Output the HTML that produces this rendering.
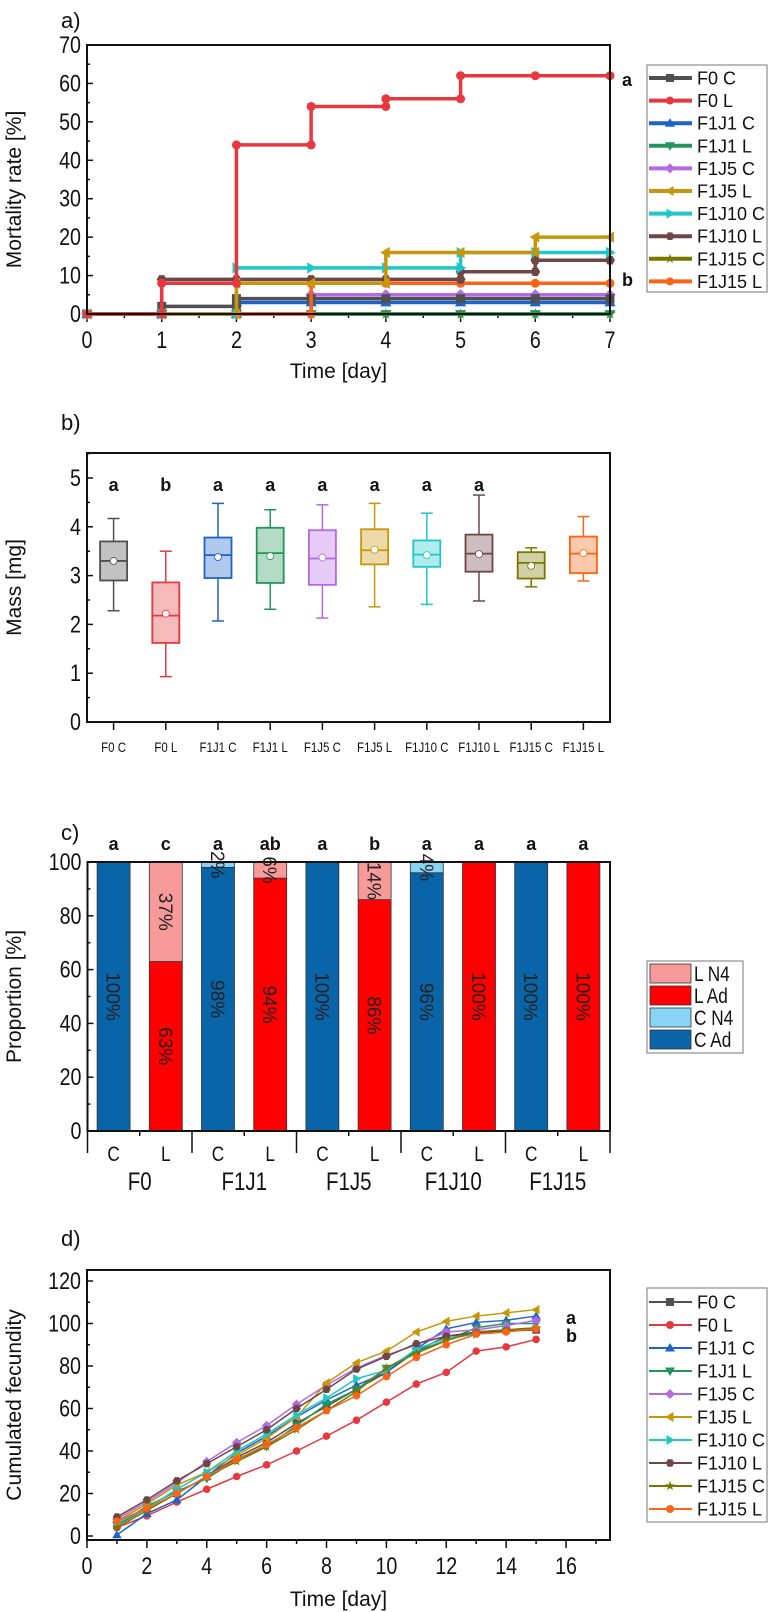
<!DOCTYPE html>
<html><head><meta charset="utf-8"><style>
body{margin:0;background:#fff;}
svg{display:block;font-family:"Liberation Sans",Arial,sans-serif;}
</style></head><body>
<svg id="fig" width="772" height="1612" viewBox="0 0 772 1612" xmlns="http://www.w3.org/2000/svg"></svg>
<script>
// ---------- DATA ----------
const groups = ["F0 C","F0 L","F1J1 C","F1J1 L","F1J5 C","F1J5 L","F1J10 C","F1J10 L","F1J15 C","F1J15 L"];
const colors = ["#505050","#e8383f","#1e64c8","#23955a","#b469e6","#c8960a","#1ec8c8","#6e4646","#787800","#fa6414"];
const markers = ["square","circle","up","down","diamond","left","right","hex","star","circle"];
// panel a: mortality (%) at days 0..7
const mortDays = [0,1,2,3,4,5,6,7];
const mortF0C   = [0,2,4,4,4,4,4,4];
const mortF0L   = [0,8,44,54,56,62,62,62];
const mortF1J1C = [0,0,3,3,3,3,3,3];
const mortF1J1L = [0,0,0,0,0,0,0,0];
const mortF1J5C = [0,0,0,5,5,5,5,5];
const mortF1J5L = [0,0,8,8,16,16,20,20];
const mortF1J10C= [0,0,12,12,12,16,16,16];
const mortF1J10L= [0,9,9,9,9,11,14,14];
const mortF1J15C= [0,0,0,0,0,0,0,0];
const mortF1J15L= [0,0,0,8,8,8,8,8];
const mortSeries=[mortF0C,mortF0L,mortF1J1C,mortF1J1L,mortF1J5C,mortF1J5L,mortF1J10C,mortF1J10L,mortF1J15C,mortF1J15L];
const mortDrawOrder=[8,3,4,2,0,9,7,6,5,1];
// panel b: mass boxes
const massMin =[2.28,0.93,2.07,2.31,2.13,2.36,2.41,2.48,2.77,2.89];
const massQ1  =[2.90,1.62,2.95,2.85,2.81,3.23,3.18,3.08,2.94,3.05];
const massMed =[3.30,2.18,3.42,3.46,3.35,3.52,3.43,3.45,3.26,3.45];
const massMean=[3.30,2.22,3.38,3.40,3.37,3.53,3.42,3.44,3.20,3.46];
const massQ3  =[3.70,2.86,3.78,3.98,3.93,3.95,3.72,3.84,3.48,3.80];
const massMax =[4.17,3.50,4.48,4.35,4.45,4.48,4.28,4.65,3.57,4.21];
const massLetters=["a","b","a","a","a","a","a","a","",""];
// panel c: proportions
const propAdult=[100,63,98,94,100,86,96,100,100,100];
const propN4   =[0,37,2,6,0,14,4,0,0,0];
const propType =["C","L","C","L","C","L","C","L","C","L"];
const propLetters=["a","c","a","ab","a","b","a","a","a","a"];
const propGroups=["F0","F1J1","F1J5","F1J10","F1J15"];
// panel d: cumulated fecundity days 1..15
const fecDays=[1,2,3,4,5,6,7,8,9,10,11,12,13,14,15];
const fecF0C  =[5,13,20,28,37,44,53,61,69,77,87,94,96,97,97];
const fecF0L  =[4,9.5,16,22,28,33.5,40,47,54.5,63,71.5,77,87,89,92.5];
const fecF1J1C=[0.5,10.5,17,28,39,47,56,64,71,77,88,97.5,100.5,101.5,103.5];
const fecF1J1L=[5,14,21,27,36,42,52,62,69,79,87,92,98,100,100];
const fecF1J5C=[8,16,25,35,44,52,62,71,79,85,90,96,97,99,101.5];
const fecF1J5L=[7,15,24,30,38,46,56,72,81.5,87,96,101,103.5,105,106.5];
const fecF1J10C=[6,13,22,30,40,48,57,65,74,78,88,93,95,97,98];
const fecF1J10L=[9,17,26,34,42,50,60,69,78.5,84.5,90.5,94,95.5,96.5,97];
const fecF1J15C=[4,12,20,28,35,42,50,59,68,79,86,92,96,97,98];
const fecF1J15L=[7,13,20,28,36,43,51,59,66,75,84,90,95,96,97.5];
const fecSeries=[fecF0C,fecF0L,fecF1J1C,fecF1J1L,fecF1J5C,fecF1J5L,fecF1J10C,fecF1J10L,fecF1J15C,fecF1J15L];

// ---------- HELPERS ----------
const NS="http://www.w3.org/2000/svg";
const svg=document.getElementById('fig');
function el(tag,attrs,parent,text){const e=document.createElementNS(NS,tag);for(const k in attrs)e.setAttribute(k,attrs[k]);if(text!==undefined)e.textContent=text;(parent||svg).appendChild(e);return e;}
function grp(name,parent){const g=el('g',{},parent);


return g;}
function marker(shape,x,y,r,color,parent){
  let e;
  if(shape==="square") e=el('rect',{x:x-r,y:y-r,width:2*r,height:2*r,fill:color},parent);
  else if(shape==="circle") e=el('circle',{cx:x,cy:y,r:r,fill:color},parent);
  else {
    let pts;
    const k=r*1.25;
    if(shape==="up") pts=[[x,y-k],[x+k,y+k*0.7],[x-k,y+k*0.7]];
    else if(shape==="down") pts=[[x,y+k],[x+k,y-k*0.7],[x-k,y-k*0.7]];
    else if(shape==="left") pts=[[x-k,y],[x+k*0.7,y-k],[x+k*0.7,y+k]];
    else if(shape==="right") pts=[[x+k,y],[x-k*0.7,y-k],[x-k*0.7,y+k]];
    else if(shape==="diamond") pts=[[x,y-k],[x+k,y],[x,y+k],[x-k,y]];
    else if(shape==="hex"){pts=[];for(let i=0;i<6;i++){const a=Math.PI/3*i;pts.push([x+r*1.1*Math.cos(a),y+r*1.1*Math.sin(a)]);}}
    else {pts=[];for(let i=0;i<10;i++){const a=-Math.PI/2+Math.PI/5*i;const rr=i%2?r*0.5:r*1.3;pts.push([x+rr*Math.cos(a),y+rr*Math.sin(a)]);}}
    e=el('polygon',{points:pts.map(p=>p.join(',')).join(' '),fill:color},parent);
  }
  
  
  return e;
}
function frame(x0,y0,x1,y1,parent){const r=el('rect',{x:x0,y:y0,width:x1-x0,height:y1-y0,fill:'none',stroke:'#111','stroke-width':2},parent);

}
function text(x,y,s,opts,parent,name){const t=el('text',Object.assign({x:x,y:y,'font-size':20,fill:'#111'},opts||{}),parent,s);


return t;}
// narrow tick text (like Arial Narrow)
function ntext(x,y,s,anchor,fs,parent,name){
  const t=el('text',{x:0,y:0,'font-size':fs,fill:'#111','text-anchor':anchor,transform:'translate('+x+','+y+') scale(0.82,1)'},parent,s);
  
  
  return t;
}
function legend(x0,y0,x1,y1,rowY0,dy,parent,lw,fs){
  const g=grp('legend',parent);
  el('rect',{x:x0,y:y0,width:x1-x0,height:y1-y0,fill:'#fff',stroke:'#777','stroke-width':1},g);
  groups.forEach((n,i)=>{
    const ge=grp('legend-entry',g);
    const y=rowY0+i*dy;
    el('line',{x1:x0+2,x2:x0+45,y1:y,y2:y,stroke:colors[i],'stroke-width':lw},ge);
    marker(markers[i],x0+23,y,4,colors[i],ge);
    text(x0+50,y+6.5,n,{'font-size':fs},ge,'legend-label');
  });
}

// ---------- PANEL A ----------
(function(){
  const g=grp('panel-a-mortality');
  const X0=87,X1=610,Y0=314,Y1=45;
  const xs=d=>X0+(d/7)*(X1-X0), ys=v=>Y0-(v/70)*(Y0-Y1);
  text(61,28,"a)",{'font-size':22},g,'panel-label');
  for(let v=0;v<=70;v+=5){const y=ys(v);el('line',{x1:X0,x2:X0+(v%10?3:6),y1:y,y2:y,stroke:'#111','stroke-width':1.5},g);
    if(v%10===0) ntext(X0-6,y+8,String(v),'end',24,g,'y-tick-label');}
  for(let d=0;d<=7;d+=0.5){const x=xs(d);el('line',{x1:x,x2:x,y1:Y0,y2:Y0+(d%1?4:8),stroke:'#111','stroke-width':1.5},g);
    if(d%1===0) ntext(x,Y0+34,String(d),'middle',24,g,'x-tick-label');}
  text(X0+(X1-X0)/2-10,378,"Time [day]",{'text-anchor':'middle','font-size':21},g,'x-axis-title');
  text(0,0,"Mortality rate [%]",{'text-anchor':'middle','font-size':21,transform:'translate(21,'+((Y0+Y1)/2+10)+') rotate(-90)'},g,'y-axis-title');
  mortDrawOrder.forEach(i=>{
    const s=mortSeries[i];const gs=grp('series-'+groups[i].toLowerCase().replace(/ /g,'-'),g);
    let d='M'+xs(mortDays[0])+','+ys(s[0]);
    for(let k=1;k<mortDays.length;k++){d+=' H'+xs(mortDays[k])+' V'+ys(s[k]);}
    el('path',{d:d,fill:'none',stroke:colors[i],'stroke-width':3.5},gs);
    for(let k=0;k<mortDays.length;k++){
      marker(markers[i],xs(mortDays[k]),ys(s[k]),4.5,colors[i],gs);
      if(k>0&&s[k]!==s[k-1]) marker(markers[i],xs(mortDays[k]),ys(s[k-1]),4.5,colors[i],gs);
    }
  });
  frame(X0,Y1,X1,Y0,g);
  text(622,86,"a",{'font-weight':'bold','font-size':18},g,'significance-letter');
  text(622,286,"b",{'font-weight':'bold','font-size':18},g,'significance-letter');
  legend(647,65,767,292,78,22.6,g,4,18);
})();

// ---------- PANEL B ----------
(function(){
  const g=grp('panel-b-mass');
  const X0=87,X1=610,Y0=722,Y1=453;
  const ys=v=>Y0-v*48.8, xs=i=>113.6+i*52.2;
  text(61,430,"b)",{'font-size':22},g,'panel-label');
  for(let v=0;v<=5.5;v+=0.5){const y=ys(v);el('line',{x1:X0,x2:X0+(v%1?3:6),y1:y,y2:y,stroke:'#111','stroke-width':1.5},g);
    if(v%1===0) ntext(X0-6,y+8,String(v),'end',24,g,'y-tick-label');}
  text(0,0,"Mass [mg]",{'text-anchor':'middle','font-size':21,transform:'translate(21,'+((Y0+Y1)/2)+') rotate(-90)'},g,'y-axis-title');
  groups.forEach((n,i)=>{
    const x=xs(i),c=colors[i],w=13.5;const gb=grp('box-'+n.toLowerCase().replace(/ /g,'-'),g);
    el('line',{x1:x,x2:x,y1:Y0,y2:Y0+8,stroke:'#111','stroke-width':1.5},gb);
    ntext(x,Y0+30,n,'middle',14,gb,'x-tick-label');
    el('line',{x1:x,x2:x,y1:ys(massMax[i]),y2:ys(massQ3[i]),stroke:c,'stroke-width':1.5},gb);
    el('line',{x1:x,x2:x,y1:ys(massQ1[i]),y2:ys(massMin[i]),stroke:c,'stroke-width':1.5},gb);
    el('line',{x1:x-6,x2:x+6,y1:ys(massMax[i]),y2:ys(massMax[i]),stroke:c,'stroke-width':1.5},gb);
    el('line',{x1:x-6,x2:x+6,y1:ys(massMin[i]),y2:ys(massMin[i]),stroke:c,'stroke-width':1.5},gb);
    el('rect',{x:x-w,y:ys(massQ3[i]),width:2*w,height:ys(massQ1[i])-ys(massQ3[i]),fill:c,'fill-opacity':0.35,stroke:c,'stroke-width':1.8},gb);
    el('line',{x1:x-w,x2:x+w,y1:ys(massMed[i]),y2:ys(massMed[i]),stroke:c,'stroke-width':1.8},gb);
    el('circle',{cx:x,cy:ys(massMean[i]),r:3.5,fill:'#fff',stroke:c,'stroke-width':0.8},gb);
    if(massLetters[i]) text(x,491,massLetters[i],{'text-anchor':'middle','font-weight':'bold','font-size':18},gb,'significance-letter');
  });
  frame(X0,Y1,X1,Y0,g);
})();

// ---------- PANEL C ----------
(function(){
  const g=grp('panel-c-proportion');
  const X0=87.5,X1=610,Y0=1131,Y1=862;
  const ys=v=>Y0-(v/100)*(Y0-Y1), xs=i=>113.6+i*52.2, bw=16.5;
  text(61,840,"c)",{'font-size':22},g,'panel-label');
  for(let v=0;v<=100;v+=10){const y=ys(v);el('line',{x1:X0,x2:X0+(v%20?3:6),y1:y,y2:y,stroke:'#111','stroke-width':1.5},g);
    if(v%20===0) ntext(X0-6,y+8,String(v),'end',24,g,'y-tick-label');}
  text(0,0,"Proportion [%]",{'text-anchor':'middle','font-size':21,transform:'translate(21,'+((Y0+Y1)/2)+') rotate(-90)'},g,'y-axis-title');
  propAdult.forEach((a,i)=>{
    const x=xs(i),isC=propType[i]==="C";const gb=grp('bar-'+propGroups[Math.floor(i/2)].toLowerCase()+'-'+propType[i].toLowerCase(),g);
    const cA=isC?"#0a64a8":"#ff0000", cN=isC?"#87d4f5":"#f89a9a";
    el('rect',{x:x-bw,y:ys(a),width:2*bw,height:ys(0)-ys(a),fill:cA,stroke:'#333','stroke-width':0.8},gb);
    if(propN4[i]>0) el('rect',{x:x-bw,y:ys(a+propN4[i]),width:2*bw,height:ys(a)-ys(a+propN4[i]),fill:cN,stroke:'#333','stroke-width':0.8},gb);
    text(0,0,a+"%",{'text-anchor':'middle','font-size':19,fill:'#222',transform:'translate('+(x-7)+','+ys(a/2)+') rotate(90)'},gb,'value-label');
    if(propN4[i]>0) text(0,0,propN4[i]+"%",{'text-anchor':'middle','font-size':19,fill:'#222',transform:'translate('+(x-7)+','+ys(a+propN4[i]/2)+') rotate(90)'},gb,'value-label');
    text(x,850,propLetters[i],{'text-anchor':'middle','font-weight':'bold','font-size':18},gb,'significance-letter');
    ntext(x,Y0+30,propType[i],'middle',21,gb,'x-tick-label');
  });
  for(let k=0;k<=5;k++){const x=X0+k*(X1-X0)/5;el('line',{x1:x,x2:x,y1:Y0,y2:Y0+22,stroke:'#111','stroke-width':1.5},g);}
  for(let k=0;k<5;k++){const x=X0+(k+0.5)*(X1-X0)/5;el('line',{x1:x,x2:x,y1:Y0,y2:Y0+5,stroke:'#111','stroke-width':1.5},g);
    ntext(x,Y0+59,propGroups[k],'middle',25,g,'group-label');}
  frame(X0,Y1,X1,Y0,g);
  const lg=grp('legend',g);
  el('rect',{x:647,y:961,width:96,height:92,fill:'#fff',stroke:'#777','stroke-width':1},lg);
  [["L N4","#f89a9a"],["L Ad","#ff0000"],["C N4","#87d4f5"],["C Ad","#0a64a8"]].forEach((e,k)=>{
    const ge=grp('legend-entry',lg);const y=964+k*22;
    el('rect',{x:650,y:y,width:41,height:19,fill:e[1],stroke:'#333','stroke-width':0.8},ge);
    ntext(694,y+17,e[0],'start',21,ge,'legend-label');
  });
})();

// ---------- PANEL D ----------
(function(){
  const g=grp('panel-d-fecundity');
  const X0=87,X1=610,Y0=1540,Y1=1270;
  const xs=d=>X0+d*29.94, ys=v=>1536-v*(255/120);
  text(61,1246,"d)",{'font-size':22},g,'panel-label');
  for(let v=0;v<=120;v+=10){const y=ys(v);el('line',{x1:X0,x2:X0+(v%20?3:6),y1:y,y2:y,stroke:'#111','stroke-width':1.5},g);
    if(v%20===0) ntext(X0-6,y+8,String(v),'end',24,g,'y-tick-label');}
  for(let d=0;d<=17;d+=1){const x=xs(d);el('line',{x1:x,x2:x,y1:Y0,y2:Y0+(d%2?4:8),stroke:'#111','stroke-width':1.5},g);
    if(d%2===0) ntext(x,Y0+34,String(d),'middle',24,g,'x-tick-label');}
  text(X0+(X1-X0)/2-10,1606,"Time [day]",{'text-anchor':'middle','font-size':21},g,'x-axis-title');
  text(0,0,"Cumulated fecundity",{'text-anchor':'middle','font-size':21,transform:'translate(21,'+((Y0+Y1)/2)+') rotate(-90)'},g,'y-axis-title');
  fecSeries.forEach((s,i)=>{
    const gs=grp('series-'+groups[i].toLowerCase().replace(/ /g,'-'),g);
    el('polyline',{points:s.map((v,k)=>xs(fecDays[k])+','+ys(v)).join(' '),fill:'none',stroke:colors[i],'stroke-width':1.5},gs);
    s.forEach((v,k)=>marker(markers[i],xs(fecDays[k]),ys(v),3.8,colors[i],gs));
  });
  frame(X0,Y1,X1,Y0,g);
  text(566,1324,"a",{'font-weight':'bold','font-size':18},g,'significance-letter');
  text(566,1342,"b",{'font-weight':'bold','font-size':18},g,'significance-letter');
  legend(647,1288,767,1522,1302,23,g,2,18);
})();
</script>
</body></html>
